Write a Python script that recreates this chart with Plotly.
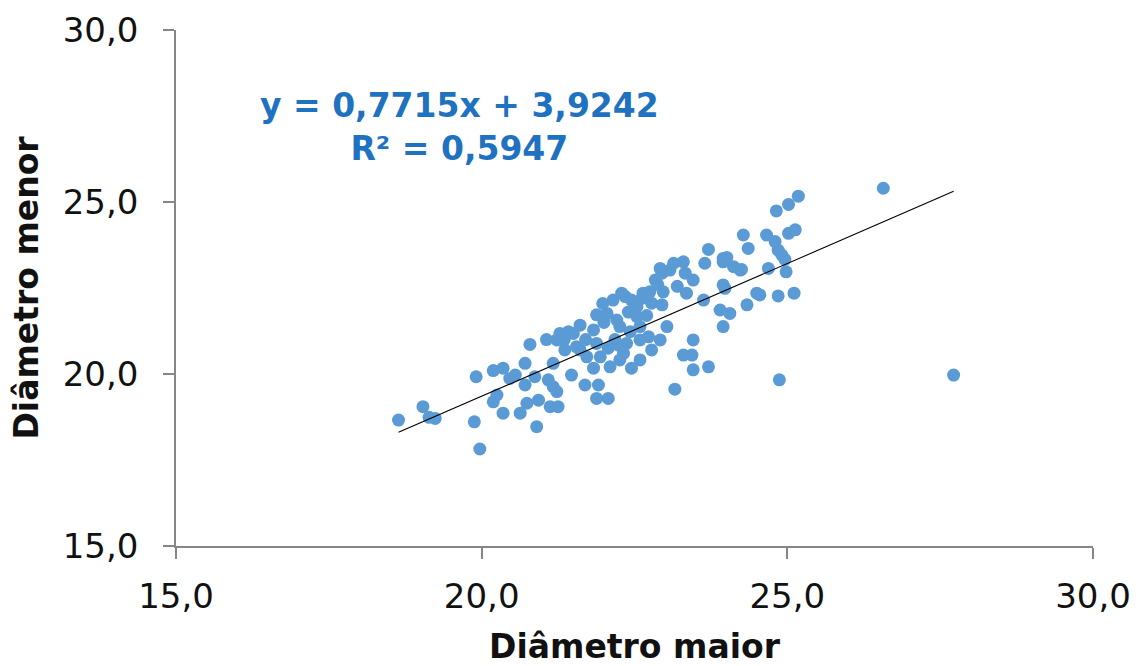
import plotly.graph_objects as go

# Data
diam_maior = [
    18.64, 19.04, 19.14, 19.24, 19.91, 19.88, 19.97, 20.19, 20.35, 20.25, 20.19, 20.35,
    20.46, 20.55, 20.71, 20.71, 20.74, 20.63, 20.79, 20.87, 20.93, 20.90, 21.06, 21.09,
    21.17, 21.23, 21.12, 21.25, 21.17, 21.28, 21.42, 21.50, 21.36, 21.23, 21.47, 21.55,
    21.61,
    23.14, 23.30, 23.65, 23.95, 24.12, 24.23, 22.84, 22.95, 23.08, 23.33, 23.46, 22.15,
    22.29, 22.45, 22.64, 22.75, 22.97, 23.35, 22.54, 22.78, 22.95, 22.54, 23.95, 23.63,
    23.90, 24.06, 24.34, 24.50, 21.88, 22.05, 22.21, 21.83, 22.26, 22.43, 22.59, 22.73,
    22.92, 23.03, 23.46, 23.95, 21.61, 21.88, 22.07, 22.24, 22.37, 22.59, 21.72, 21.94,
    22.26, 22.10, 21.83, 22.45, 22.59, 22.78, 23.30, 23.44, 23.46, 23.71, 21.69, 21.91,
    21.88, 22.07, 23.16,
    26.57, 25.18, 25.02, 24.82, 24.28, 24.66, 24.80, 25.02, 25.13, 23.71, 24.36, 24.85,
    24.91, 24.96, 23.95, 24.01, 24.25, 24.69, 24.98, 23.98, 24.55, 24.85, 25.11,
    24.87, 27.72, 22.92,
    22.35, 22.62, 22.40, 22.00, 22.18, 21.70, 22.88, 23.20, 21.35, 22.32, 22.70, 21.98,
]
diam_menor = [
    18.66, 19.05, 18.74, 18.71, 19.92, 18.61, 17.82, 20.10, 20.17, 19.39, 19.19, 18.86,
    19.87, 19.97, 20.31, 19.68, 19.15, 18.86, 20.86, 19.92, 19.24, 18.47, 21.00, 19.83,
    19.63, 19.49, 19.05, 19.05, 20.31, 21.18, 21.23, 21.18, 20.70, 20.99, 19.97, 20.79,
    21.42,
    23.22, 23.26, 23.22, 23.26, 23.12, 23.02, 22.73, 22.93, 23.02, 22.93, 22.73, 22.15,
    22.35, 22.15, 22.35, 22.39, 22.39, 22.35, 21.96, 22.06, 22.01, 21.67, 22.59, 22.15,
    21.86, 21.76, 22.01, 22.35, 21.72, 21.76, 21.57, 21.28, 21.38, 21.23, 21.38, 21.08,
    20.99, 21.38, 20.99, 21.38, 20.70, 20.89, 20.75, 20.84, 20.89, 20.99, 20.50, 20.50,
    20.41, 20.21, 20.17, 20.17, 20.41, 20.70, 20.55, 20.55, 20.12, 20.21, 19.68, 19.68,
    19.29, 19.29, 19.56,
    25.40, 25.17, 24.93, 24.74, 24.04, 24.04, 23.85, 24.09, 24.19, 23.62, 23.65, 23.60,
    23.46, 23.33, 23.36, 23.39, 23.04, 23.07, 22.97, 22.49, 22.30, 22.27, 22.35,
    19.83, 19.97, 23.07,
    22.25, 22.20, 21.80, 21.50, 21.00, 21.00, 22.60, 22.55, 21.00, 20.60, 21.70, 22.05,
]
slope = 0.7715
intercept = 3.9242
r2 = 0.5947
axis_ticks = [15, 20, 25, 30]
x_title = "Diâmetro maior"
y_title = "Diâmetro menor"

x_min, x_max = min(diam_maior), max(diam_maior)
trend_x = [x_min, x_max]
trend_y = [slope * v + intercept for v in trend_x]

def fmt(v):
    return f"{v:.4f}".replace(".", ",")

fig = go.Figure()
fig.add_trace(go.Scatter(
    x=diam_maior, y=diam_menor, mode="markers",
    marker=dict(size=13, color="#5B9BD5", line=dict(width=0)),
    showlegend=False,
))
fig.add_trace(go.Scatter(
    x=trend_x, y=trend_y, mode="lines",
    line=dict(color="#000000", width=1.1),
    showlegend=False,
))

fig.add_annotation(
    x=19.63, y=27.19, xref="x", yref="y",
    text=f"y = {fmt(slope)}x + {fmt(intercept)}<br>R² = {fmt(r2)}",
    showarrow=False, align="center",
    font=dict(family="DejaVu Sans", size=33, color="#1F72C0", weight="bold"),
)

axis_common = dict(
    tickvals=axis_ticks, tickformat=".1f",
    showgrid=False, zeroline=False, automargin=False,
    showline=True, linecolor="#868686", linewidth=1.5,
    ticks="outside", tickcolor="#868686", tickwidth=1.5, ticklen=11,
    tickfont=dict(family="DejaVu Sans", size=34, color="#111111"),
)

fig.update_xaxes(range=[15, 30], **axis_common, ticklabelstandoff=8,
                 title=dict(text=x_title, standoff=22,
                            font=dict(family="DejaVu Sans", size=33, color="#111111", weight="bold")))
fig.update_yaxes(range=[15, 30], **axis_common, ticklabelstandoff=18,
                 title=dict(text=y_title, standoff=14,
                            font=dict(family="DejaVu Sans", size=33, color="#111111", weight="bold")))

fig.update_layout(
    width=1143, height=666,
    margin=dict(l=176, r=50, t=30, b=120),
    paper_bgcolor="white", plot_bgcolor="white",
    separators=",.",
)

fig.write_html("out.html")
